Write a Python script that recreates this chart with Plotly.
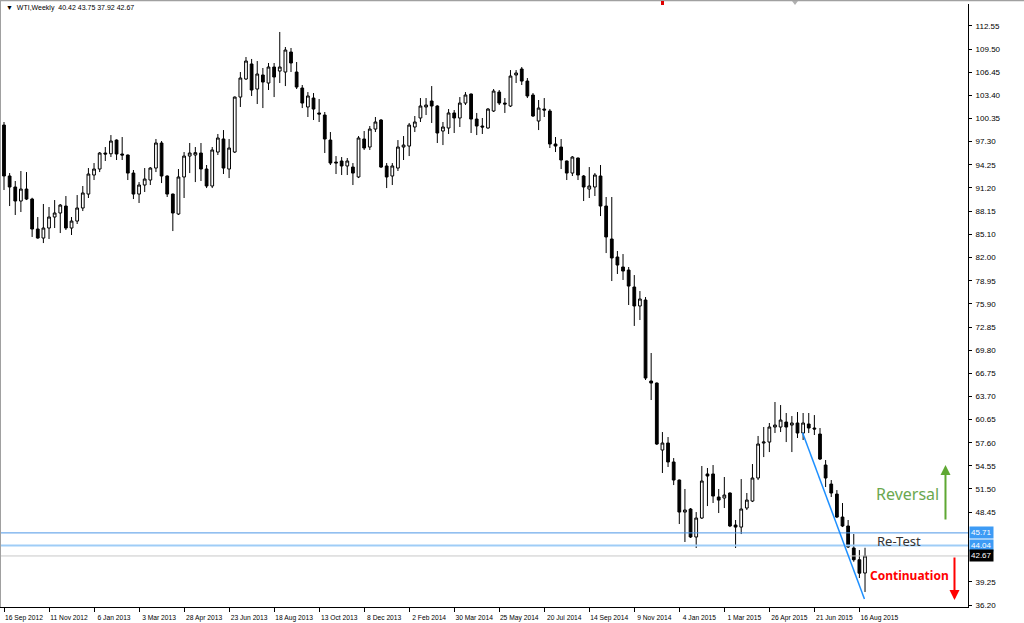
import pandas as pd
import plotly.graph_objects as go

# ---------------- data (weekly WTI candles) ----------------
start_week = "2012-09-16"

opens = [99.49, 92.77, 91.32, 89.47, 91.05, 89.73, 85.78, 84.59, 85.91, 87.36,
         87.89, 88.81, 85.91, 86.83, 88.55, 90.39, 92.90, 93.69, 95.80, 95.70,
         97.51, 95.67, 95.54, 93.16, 90.39, 91.58, 92.24, 93.82, 97.12, 92.77,
         90.39, 87.76, 92.64, 95.40, 95.54, 95.80, 93.69, 91.45, 95.93, 97.65,
         93.69, 95.93, 103.18, 105.56, 107.54, 104.24, 106.09, 105.03, 107.14, 106.61,
         106.48, 109.12, 106.48, 104.37, 101.87, 103.05, 101.08, 100.81, 97.51, 94.61,
         94.75, 94.09, 93.95, 92.64, 97.65, 96.59, 98.96, 100.15, 94.09, 92.77,
         93.82, 96.59, 96.72, 99.23, 100.42, 101.87, 102.66, 102.00, 98.70, 99.10,
         101.08, 100.42, 102.39, 103.58, 100.28, 99.36, 99.10, 101.34, 103.84, 102.39,
         102.00, 106.09, 106.88, 105.29, 103.45, 100.02, 101.60, 101.34, 96.99, 96.59,
         94.75, 93.16, 95.14, 92.77, 91.05, 91.32, 92.77, 88.81, 84.46, 82.09,
         80.77, 80.37, 78.13, 75.63, 76.42, 65.74, 65.47, 56.64, 57.56, 55.06,
         52.68, 48.46, 48.86, 45.17, 47.67, 53.48, 53.48, 50.44, 50.31, 50.97,
         46.75, 46.48, 48.99, 49.91, 52.95, 57.56, 57.69, 59.67, 59.67, 60.33,
         59.93, 60.20, 58.88, 60.07, 59.54, 58.75, 54.66, 52.15, 50.83, 47.80,
         46.62, 43.72, 42.17, 40.42]

highs = [99.89, 93.16, 92.11, 93.43, 93.29, 89.90, 87.36, 89.08, 88.68, 89.60,
         89.08, 90.13, 87.36, 90.26, 91.45, 93.82, 94.48, 95.93, 96.59, 98.17,
         97.60, 97.91, 95.60, 93.56, 91.97, 93.82, 93.95, 97.65, 97.38, 92.85,
         90.45, 93.69, 95.93, 97.12, 96.59, 97.12, 94.22, 96.59, 98.31, 98.83,
         97.65, 103.25, 106.48, 108.46, 108.20, 107.93, 107.01, 107.67, 107.67, 111.76,
         109.78, 109.65, 107.80, 104.77, 103.84, 103.71, 102.92, 101.21, 98.57, 95.40,
         95.27, 95.14, 94.48, 98.04, 98.70, 99.36, 100.55, 100.28, 94.48, 94.48,
         97.51, 98.04, 99.76, 100.68, 103.05, 103.05, 104.63, 102.10, 99.89, 101.60,
         101.47, 103.18, 103.84, 103.65, 101.08, 100.42, 101.73, 104.24, 104.11, 103.05,
         106.74, 106.74, 107.14, 105.69, 103.71, 102.79, 103.05, 101.60, 97.91, 97.65,
         94.80, 95.40, 95.20, 92.90, 93.95, 93.16, 94.22, 90.00, 90.00, 82.88,
         82.48, 80.77, 79.71, 77.60, 76.81, 69.43, 65.55, 59.01, 58.35, 55.58,
         52.75, 51.50, 48.99, 48.46, 54.53, 54.27, 54.66, 51.50, 53.08, 51.05,
         47.41, 52.81, 50.97, 54.79, 58.49, 59.67, 60.20, 62.97, 62.57, 61.52,
         61.12, 61.65, 61.52, 61.52, 61.25, 59.54, 55.32, 52.68, 51.36, 49.65,
         47.41, 45.56, 43.45, 43.75]

lows = [90.92, 88.81, 87.63, 88.02, 89.60, 84.73, 84.50, 83.93, 84.46, 85.91,
        85.25, 85.65, 84.99, 86.44, 88.15, 89.87, 92.24, 93.29, 94.75, 95.27,
        94.88, 94.88, 92.24, 89.73, 89.21, 90.66, 91.58, 93.29, 91.84, 90.00,
        85.51, 87.63, 89.87, 93.16, 91.97, 92.11, 91.18, 91.18, 95.54, 93.03,
        92.50, 95.80, 101.87, 105.43, 103.32, 102.26, 101.73, 104.11, 103.18, 105.03,
        104.63, 106.48, 104.24, 101.73, 100.55, 100.15, 99.89, 95.80, 94.22, 93.03,
        92.90, 92.90, 91.58, 92.50, 96.20, 96.20, 98.57, 93.82, 91.18, 91.58,
        93.43, 94.88, 95.40, 98.57, 99.89, 100.81, 99.76, 97.12, 96.85, 98.31,
        98.44, 99.23, 102.13, 98.44, 98.17, 98.31, 99.00, 101.21, 102.13, 101.08,
        101.87, 105.03, 104.77, 103.05, 100.55, 98.83, 100.55, 96.46, 95.93, 93.69,
        92.24, 92.77, 92.24, 89.47, 89.87, 90.13, 87.49, 82.61, 78.92, 79.85,
        79.06, 75.76, 73.00, 73.78, 65.87, 63.23, 57.30, 53.61, 54.40, 52.02,
        46.88, 44.51, 45.04, 43.72, 47.54, 49.25, 49.65, 48.33, 48.99, 46.48,
        43.72, 45.56, 48.73, 49.78, 52.68, 55.71, 56.37, 58.88, 59.01, 57.69,
        56.37, 58.22, 57.96, 58.88, 58.62, 55.32, 51.76, 50.44, 47.67, 46.48,
        43.72, 41.91, 39.76, 37.92]

closes = [92.77, 91.32, 89.47, 91.05, 89.73, 85.78, 84.59, 85.91, 87.36, 87.89,
          88.94, 85.91, 86.83, 88.55, 90.53, 93.03, 93.69, 95.80, 95.67, 97.38,
          95.67, 95.54, 93.16, 90.39, 91.58, 92.37, 93.82, 97.12, 92.77, 90.39,
          87.89, 92.64, 95.40, 95.80, 95.85, 93.69, 91.45, 96.20, 97.78, 93.82,
          96.46, 103.18, 105.69, 107.93, 104.11, 106.22, 105.16, 107.14, 105.82, 107.14,
          109.38, 107.67, 104.50, 102.39, 103.32, 101.60, 100.94, 97.65, 94.48, 94.50,
          94.09, 94.75, 93.16, 97.78, 96.46, 98.96, 99.89, 93.95, 92.64, 94.09,
          96.59, 96.85, 99.49, 99.89, 102.00, 102.13, 102.00, 98.44, 99.23, 101.08,
          100.42, 102.39, 103.45, 100.28, 99.36, 99.23, 101.60, 103.97, 102.39, 102.26,
          105.95, 106.35, 105.29, 103.32, 100.68, 101.73, 101.47, 96.99, 96.72, 94.88,
          93.16, 95.27, 92.90, 91.32, 91.45, 92.90, 88.81, 84.73, 81.96, 81.03,
          80.24, 78.26, 75.63, 76.55, 66.13, 65.47, 57.43, 57.56, 55.06, 52.68,
          48.46, 48.73, 45.17, 47.67, 52.55, 53.21, 50.57, 50.04, 50.70, 46.62,
          46.48, 48.86, 50.04, 52.95, 57.43, 57.69, 59.67, 59.93, 60.59, 59.67,
          60.20, 58.88, 60.20, 59.54, 59.41, 55.45, 52.95, 50.97, 47.80, 46.62,
          43.85, 42.17, 40.40, 42.67]

price_ticks = ["112.55", "109.50", "106.45", "103.40", "100.35", "97.30", "94.25",
               "91.20", "88.15", "85.10", "82.00", "78.95", "75.90", "72.85", "69.80",
               "66.75", "63.70", "60.65", "57.60", "54.55", "51.50", "48.45",
               "39.25", "36.20"]

level_retest_high = 45.71
level_retest_low = 44.04
last_close = 42.67
title_text = "WTI,Weekly  40.42 43.75 37.92 42.67"

# ---------------- figure ----------------
t0 = pd.Timestamp(start_week)


def wk(i):
    return t0 + pd.Timedelta(days=7 * i)


dates = [wk(i) for i in range(len(opens))]
tick_dates = dates[::8]
tick_text = [f"{d.day} {d.strftime('%b %Y')}" for d in tick_dates]

fig = go.Figure()
fig.add_trace(go.Candlestick(
    x=dates, open=opens, high=highs, low=lows, close=closes,
    increasing=dict(line=dict(color="black", width=1), fillcolor="white"),
    decreasing=dict(line=dict(color="black", width=1), fillcolor="black"),
    whiskerwidth=0, showlegend=False, hoverinfo="skip",
))

FONT = "Liberation Sans"

fig.update_layout(
    width=1024, height=623,
    margin=dict(l=0, r=56, t=4, b=16),
    paper_bgcolor="white", plot_bgcolor="white",
    showlegend=False,
    font=dict(family=FONT, size=7, color="black"),
    xaxis=dict(
        type="date", range=[wk(-0.711), wk(171.3)],
        rangeslider=dict(visible=False),
        tickvals=tick_dates, ticktext=tick_text,
        ticks="outside", ticklen=4, tickcolor="black", tickwidth=1,
        showline=True, linecolor="black", linewidth=1,
        showgrid=False, zeroline=False,
        tickfont=dict(family=FONT, size=6.7, color="black"),
        ticklabelshift=20, ticklabelstandoff=0,
    ),
    yaxis=dict(
        side="right", range=[35.94, 115.45],
        tickvals=[float(t) for t in price_ticks], ticktext=price_ticks,
        ticks="outside", ticklen=3, tickcolor="black", tickwidth=1,
        showline=True, linecolor="black", linewidth=1,
        showgrid=False, zeroline=False,
        tickfont=dict(family=FONT, size=8, color="black"),
        ticklabelstandoff=2,
    ),
)

# horizontal levels
fig.add_shape(type="line", xref="paper", x0=0, x1=1, yref="y",
              y0=last_close, y1=last_close, line=dict(color="#c8c8c8", width=1))
fig.add_shape(type="line", xref="paper", x0=0, x1=1, yref="y",
              y0=level_retest_high, y1=level_retest_high, line=dict(color="#4d96e6", width=1))
fig.add_shape(type="line", xref="paper", x0=0, x1=1, yref="y",
              y0=level_retest_low, y1=level_retest_low, line=dict(color="#9fcdf7", width=2))

# trend line
fig.add_shape(type="line", xref="x", yref="y", x0=wk(141.9), y0=58.92,
              x1=wk(152.9), y1=36.99, line=dict(color="#1e90ff", width=1.5))

# frame lines (window border)
fig.add_shape(type="line", xref="paper", yref="paper", x0=0, x1=0, y0=0, y1=1.007,
              line=dict(color="#a0a0a0", width=2))
fig.add_shape(type="line", xref="paper", yref="paper", x0=0, x1=1.058, y0=1.006, y1=1.006,
              line=dict(color="#a0a0a0", width=1.5))

# small markers at the top edge
fig.add_shape(type="rect", xref="paper", yref="paper", x0=661 / 968, x1=664 / 968,
              y0=(607 - 5) / 603, y1=(607 - 1) / 603,
              fillcolor="#e00000", line=dict(width=0))
fig.add_shape(type="path", xref="paper", yref="paper",
              path=f"M {792/968},{(607-1)/603} L {798/968},{(607-1)/603} L {795/968},{(607-5)/603} Z",
              fillcolor="#b0b0b0", line=dict(width=0))

# price-axis labels for the levels
for val, bg in [(level_retest_high, "#3d9bf5"), (level_retest_low, "#3d9bf5"), (last_close, "black")]:
    fig.add_annotation(xref="paper", x=1, yref="y", y=val, text=f"{val:.2f}",
                       showarrow=False, xanchor="left", xshift=1, bgcolor=bg,
                       borderpad=1, font=dict(family=FONT, size=8, color="white"))

# title
fig.add_annotation(xref="paper", yref="paper", x=0, y=(607 - 8) / 603, xshift=4,
                   text="▼  " + title_text, showarrow=False, xanchor="left", yanchor="middle",
                   font=dict(family=FONT, size=7, color="black"))

# text annotations
fig.add_annotation(x=wk(160.6), y=50.84, text="Reversal", showarrow=False,
                   font=dict(family="Noto Sans", size=16, color="#6aa84f"))
fig.add_annotation(x=wk(159.1), y=44.70, text="Re-Test", showarrow=False,
                   font=dict(family="Noto Sans", size=13, color="#333333"))
fig.add_annotation(x=wk(160.9), y=40.03, text="<b>Continuation</b>", showarrow=False,
                   font=dict(family="Noto Sans", size=12, color="#ff0000"))

# arrows
fig.add_annotation(x=wk(167.3), y=54.66, ax=0, ay=56, text="", showarrow=True,
                   arrowhead=2, arrowsize=1, arrowwidth=2, arrowcolor="#5fa833")
fig.add_annotation(x=wk(168.9), y=36.86, ax=0, ay=-44, text="", showarrow=True,
                   arrowhead=2, arrowsize=1, arrowwidth=2, arrowcolor="#ff0000")

fig.write_html("out.html", config={"displayModeBar": False},
               post_script="document.body.style.margin='0';")
